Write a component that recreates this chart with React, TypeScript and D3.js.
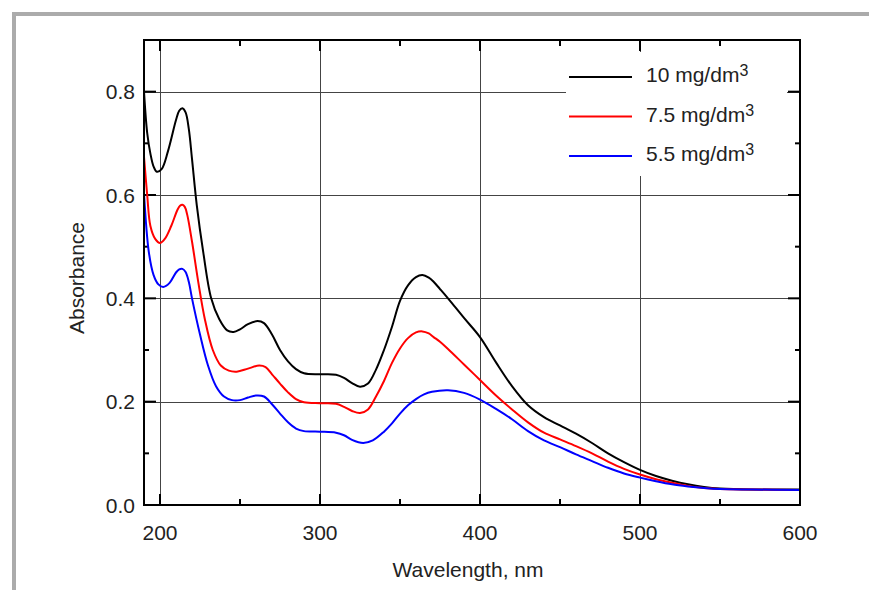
import React from "react";
import * as d3 from "d3";

const wavelengths10 = [190,192,194,196,198,201,205,210,212,214,216,218,220,223,227,232,237,242,246,250,255,261,265,270,275,280,285,290,300,310,315,320,325,330,335,340,345,350,355,360,364,368,371,375,380,390,400,410,420,430,440,450,460,470,480,490,500,510,520,530,540,550,570,600];
const abs10 = [0.80,0.72,0.68,0.655,0.645,0.65,0.685,0.745,0.763,0.768,0.76,0.728,0.67,0.58,0.49,0.40,0.36,0.338,0.335,0.34,0.35,0.356,0.352,0.33,0.30,0.278,0.263,0.255,0.253,0.252,0.246,0.236,0.229,0.235,0.262,0.30,0.345,0.395,0.425,0.441,0.445,0.44,0.432,0.418,0.40,0.362,0.325,0.276,0.23,0.193,0.17,0.154,0.138,0.12,0.10,0.083,0.068,0.056,0.047,0.04,0.035,0.032,0.03,0.03];

const wavelengths75 = [190,192,194,197,200,203,207,211,212.5,214,215.5,217,220,224,228,233,238,243,248,255,262,266,270,275,280,285,290,300,310,315,320,325,330,335,340,345,350,355,360,364,368,371,375,380,390,400,410,420,430,440,450,460,470,480,490,500,510,520,530,540,550,570,600];
const abs75 = [0.674,0.6,0.54,0.515,0.507,0.515,0.54,0.572,0.579,0.581,0.577,0.562,0.51,0.43,0.36,0.30,0.27,0.26,0.258,0.264,0.27,0.267,0.253,0.235,0.218,0.205,0.199,0.197,0.196,0.19,0.182,0.178,0.185,0.21,0.24,0.275,0.303,0.323,0.334,0.336,0.332,0.325,0.316,0.302,0.272,0.242,0.212,0.185,0.16,0.14,0.127,0.114,0.10,0.084,0.07,0.059,0.05,0.043,0.037,0.033,0.031,0.03,0.029];

const wavelengths55 = [190,193,196,199,202,206,210,212,214,216,218,220,225,230,235,240,245,250,255,260,265,270,275,280,285,290,300,310,315,320,327,333,340,345,350,355,360,365,370,380,390,400,410,420,430,440,450,460,470,480,490,500,510,520,530,540,550,570,600];
const abs55 = [0.603,0.49,0.445,0.427,0.422,0.43,0.45,0.456,0.457,0.451,0.432,0.40,0.33,0.27,0.23,0.21,0.203,0.203,0.208,0.212,0.21,0.195,0.177,0.16,0.148,0.143,0.142,0.14,0.135,0.126,0.12,0.125,0.142,0.158,0.177,0.193,0.205,0.214,0.219,0.222,0.217,0.204,0.186,0.166,0.143,0.125,0.112,0.098,0.085,0.072,0.061,0.053,0.046,0.04,0.036,0.033,0.031,0.03,0.029];

const seriesLabels = ["10 mg/dm", "7.5 mg/dm", "5.5 mg/dm"];
const seriesColors = ["#000000", "#ff0000", "#0000ff"];
const xTicks = [200, 300, 400, 500, 600];
const xMinorTicks = [250, 350, 450, 550];
const yTicks = [0, 0.2, 0.4, 0.6, 0.8];
const yMinorTicks = [0.1, 0.3, 0.5, 0.7];

const W = 869, H = 590;
const L = 144, R = 800, T = 40, B = 505;

export default function App() {
  const x = d3.scaleLinear().domain([190, 600]).range([L, R]);
  const y = d3.scaleLinear().domain([0, 0.9]).range([B, T]);
  const line = d3.line<[number, number]>()
    .x(d => x(d[0]))
    .y(d => y(d[1]))
    .curve(d3.curveCatmullRom.alpha(0.5));
  const series = [
    d3.zip(wavelengths10, abs10) as [number, number][],
    d3.zip(wavelengths75, abs75) as [number, number][],
    d3.zip(wavelengths55, abs55) as [number, number][],
  ];
  const font = "'Liberation Sans', Arial, sans-serif";
  const gridColor = "#444";
  const fs = 21;
  return (
    <svg width={W} height={H} style={{ position: "absolute", left: 0, top: 0 }} fontFamily={font}>
      <rect x={0} y={0} width={W} height={H} fill="#fff" />
      {/* outer gray border */}
      <rect x={12} y={12} width={W - 12} height={4} fill="#ababab" />
      <rect x={12} y={12} width={4} height={H - 12} fill="#ababab" />
      {/* grid */}
      {xTicks.filter(t => t < 600).map(t => (
        <line key={"gx" + t} x1={Math.round(x(t)) + 0.5} x2={Math.round(x(t)) + 0.5} y1={T} y2={B} stroke={gridColor} strokeWidth={1} />
      ))}
      {yTicks.filter(t => t > 0).map(t => (
        <line key={"gy" + t} x1={L} x2={R} y1={Math.round(y(t)) + 0.5} y2={Math.round(y(t)) + 0.5} stroke={gridColor} strokeWidth={1} />
      ))}
      {/* legend background */}
      <rect x={566} y={52} width={221} height={124} fill="#fff" />
      {/* ticks */}
      {xTicks.map(t => (
        <g key={"tx" + t}>
          <line x1={x(t)} x2={x(t)} y1={B} y2={B - 11} stroke="#000" strokeWidth={2} />
          <line x1={x(t)} x2={x(t)} y1={T} y2={T + 11} stroke="#000" strokeWidth={2} />
        </g>
      ))}
      {xMinorTicks.map(t => (
        <g key={"mx" + t}>
          <line x1={x(t)} x2={x(t)} y1={B} y2={B - 6} stroke="#000" strokeWidth={2} />
          <line x1={x(t)} x2={x(t)} y1={T} y2={T + 6} stroke="#000" strokeWidth={2} />
        </g>
      ))}
      {yTicks.map(t => (
        <g key={"ty" + t}>
          <line x1={L} x2={L + 12} y1={y(t)} y2={y(t)} stroke="#000" strokeWidth={2} />
          <line x1={R} x2={R - 12} y1={y(t)} y2={y(t)} stroke="#000" strokeWidth={2} />
        </g>
      ))}
      {yMinorTicks.map(t => (
        <g key={"my" + t}>
          <line x1={L} x2={L + 5} y1={y(t)} y2={y(t)} stroke="#000" strokeWidth={2} />
          <line x1={R} x2={R - 5} y1={y(t)} y2={y(t)} stroke="#000" strokeWidth={2} />
        </g>
      ))}
      {/* curves */}
      {series.map((s, i) => (
        <path key={"s" + i} d={line(s) || ""} fill="none" stroke={seriesColors[i]} strokeWidth={2} strokeLinejoin="round" />
      ))}
      {/* frame */}
      <rect x={L} y={T} width={R - L} height={B - T} fill="none" stroke="#000" strokeWidth={2} />
      {/* tick labels */}
      {xTicks.map(t => (
        <text key={"lx" + t} x={x(t)} y={540} textAnchor="middle" fontSize={fs} fill="#222">{t}</text>
      ))}
      {yTicks.map(t => (
        <text key={"ly" + t} x={135} y={y(t) + 7.5} textAnchor="end" fontSize={fs} fill="#222">{t.toFixed(1)}</text>
      ))}
      {/* axis titles */}
      <text x={468} y={577} textAnchor="middle" fontSize={fs} fill="#222">Wavelength, nm</text>
      <text transform={`translate(84,278) rotate(-90)`} textAnchor="middle" fontSize={fs} fill="#222">Absorbance</text>
      {/* legend */}
      {seriesLabels.map((lab, i) => (
        <g key={"lg" + i}>
          <line x1={569} x2={632} y1={77 + i * 39.5} y2={77 + i * 39.5} stroke={seriesColors[i]} strokeWidth={2} />
          <text x={646} y={82 + i * 39.5} fontSize={fs} fill="#222">
            {lab}
            <tspan fontSize={16} dy={-6}>3</tspan>
          </text>
        </g>
      ))}
    </svg>
  );
}
